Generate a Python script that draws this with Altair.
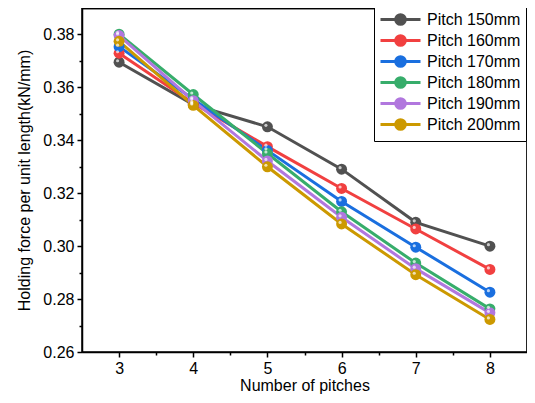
import altair as alt
import pandas as pd

pitches = [3, 4, 5, 6, 7, 8]
series_names = ["Pitch 150mm", "Pitch 160mm", "Pitch 170mm", "Pitch 180mm", "Pitch 190mm", "Pitch 200mm"]
p150 = [0.3695, 0.3535, 0.3451, 0.3291, 0.3090, 0.3000]
p160 = [0.3729, 0.3540, 0.3376, 0.3218, 0.3065, 0.2912]
p170 = [0.3754, 0.3555, 0.3362, 0.3169, 0.2996, 0.2826]
p180 = [0.3801, 0.3573, 0.3350, 0.3130, 0.2936, 0.2763]
p190 = [0.3796, 0.3550, 0.3322, 0.3109, 0.2915, 0.2748]
p200 = [0.3774, 0.3532, 0.3300, 0.3084, 0.2892, 0.2723]
colors = ["#515151", "#F14040", "#1A6FDF", "#37AD6B", "#B177DE", "#CC9900"]

rows = []
for name, vals in zip(series_names, [p150, p160, p170, p180, p190, p200]):
    for x, v in zip(pitches, vals):
        rows.append({"pitch": x, "force": v, "series": name})
df = pd.DataFrame(rows)

font = "Liberation Sans"
xscale = alt.Scale(domain=[2.5, 8.5], nice=False, zero=False)
yscale = alt.Scale(domain=[0.26, 0.39], nice=False, zero=False)
cscale = alt.Scale(domain=series_names, range=colors)

# line from -1 to 4 with a circle at 1.5 (unit = sqrt(size)/2 px)
legend_path = "M-1,0H0.9M2.1,0H4M0.9,0A0.6,0.6 0 1,0 2.1,0A0.6,0.6 0 1,0 0.9,0Z"

x_main = alt.X("pitch:Q", scale=xscale, title="Number of pitches",
               axis=alt.Axis(values=pitches, format="d", tickSize=5, labelPadding=3,
                             titlePadding=1, grid=False))
y_main = alt.Y("force:Q", scale=yscale, title="Holding force per unit length(kN/mm)",
               axis=alt.Axis(values=[0.26, 0.28, 0.30, 0.32, 0.34, 0.36, 0.38], format=".2f",
                             tickSize=5, labelPadding=3, titlePadding=10, grid=False))
color = alt.Color("series:N", scale=cscale, title=None,
                  legend=alt.Legend(orient="none", legendX=292, legendY=-3,
                                    symbolType=legend_path, symbolSize=256,
                                    symbolStrokeWidth=3, labelFontSize=16,
                                    labelFont=font, rowPadding=-6.7,
                                    strokeColor="black", fillColor="white",
                                    padding=5, labelOffset=29, labelColor="black"))

base = alt.Chart(df)
lines = base.mark_line(strokeWidth=3).encode(x=x_main, y=y_main, color=color)
points = base.mark_point(filled=True, size=120, opacity=1).encode(
    x="pitch:Q", y="force:Q", color=alt.Color("series:N", scale=cscale, legend=None),
    order=alt.Order("series:N"))
highlight = base.mark_point(filled=True, size=10, color="white", opacity=0.7,
                            xOffset=-1.5, yOffset=-1.5).encode(
    x="pitch:Q", y="force:Q", order=alt.Order("series:N"))

minor_x = alt.Chart(pd.DataFrame({"pitch": [3.0]})).mark_point(opacity=0).encode(
    x=alt.X("pitch:Q", scale=xscale,
            axis=alt.Axis(orient="bottom", values=[3.5, 4.5, 5.5, 6.5, 7.5],
                          labels=False, domain=False, tickSize=3, title=None, grid=False)))
minor_y = alt.Chart(pd.DataFrame({"force": [0.3]})).mark_point(opacity=0).encode(
    y=alt.Y("force:Q", scale=yscale,
            axis=alt.Axis(orient="left", values=[0.27, 0.29, 0.31, 0.33, 0.35, 0.37],
                          labels=False, domain=False, tickSize=3, title=None, grid=False)))

chart = alt.layer(lines, points, highlight, minor_x, minor_y).resolve_axis(
    x="independent", y="independent"
).properties(
    width=445, height=344, autosize=alt.AutoSizeParams(type="none"),
    padding={"left": 74, "top": 0, "right": 0, "bottom": 43}
).configure_view(stroke="black", strokeWidth=1.5).configure_axis(
    labelFont=font, titleFont=font, labelFontSize=16, titleFontSize=16,
    titleFontWeight="normal", labelColor="black", titleColor="black",
    domainColor="black", tickColor="black", domainWidth=1.5, tickWidth=1.5
)

chart.save("out.html", embed_options={"renderer": "svg", "actions": False})
